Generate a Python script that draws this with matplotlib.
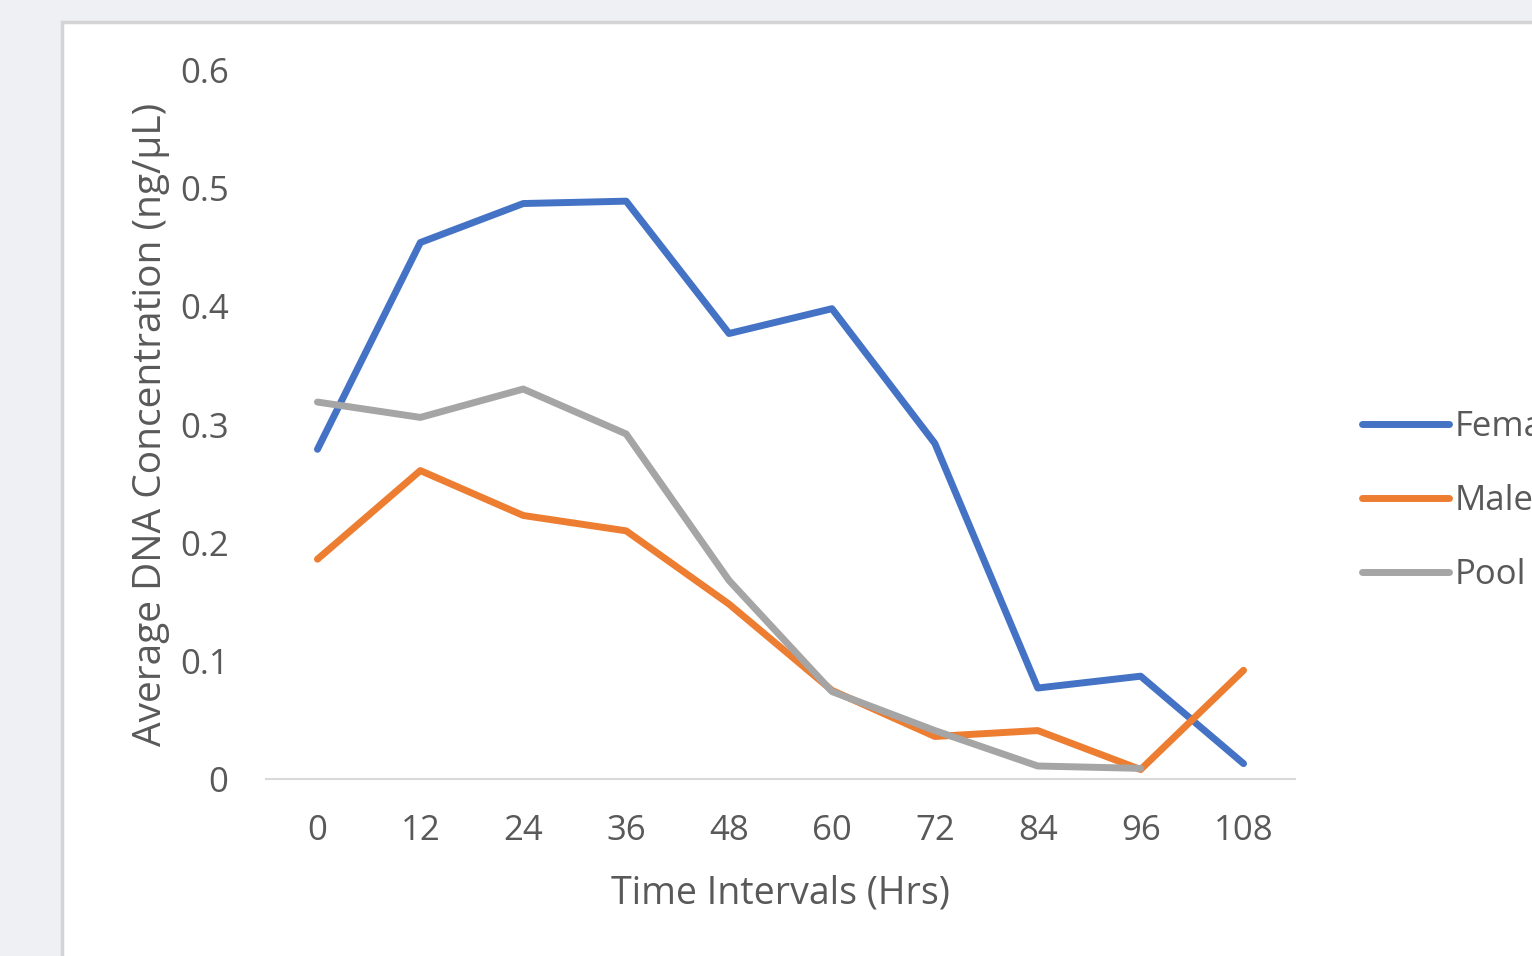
import matplotlib.pyplot as plt
from matplotlib.patches import Rectangle

# Data
hours = ['0', '12', '24', '36', '48', '60', '72', '84', '96', '108']
female = [0.279, 0.454, 0.487, 0.489, 0.377, 0.398, 0.284, 0.077, 0.087, 0.013]
male = [0.186, 0.261, 0.223, 0.210, 0.148, 0.075, 0.036, 0.041, 0.008, 0.092]
pool = [0.319, 0.306, 0.330, 0.292, 0.168, 0.074, 0.041, 0.011, 0.009]

text_color = '#595959'
plt.rcParams['font.family'] = ['Open Sans', 'DejaVu Sans']

fig = plt.figure(figsize=(15.32, 9.56), dpi=100, facecolor='#eef0f4')

# white chart area with a light border, as in the screenshot
fig.patches.append(Rectangle((62 / 1532, -0.05), 1.0, 1 - 22 / 956 + 0.05,
                             transform=fig.transFigure, facecolor='white',
                             edgecolor='#d4d4d4', linewidth=2.5, zorder=-5))

ax = fig.add_axes([266 / 1532, 177 / 956, 1029 / 1532, 709 / 956])
ax.set_facecolor('none')

x = list(range(len(hours)))
ax.plot(x, female, color='#4472C4', linewidth=5, solid_capstyle='round',
        solid_joinstyle='round', label='Female')
ax.plot(x, male, color='#ED7D31', linewidth=5, solid_capstyle='round',
        solid_joinstyle='round', label='Male')
ax.plot(x[:len(pool)], pool, color='#A5A5A5', linewidth=5, solid_capstyle='round',
        solid_joinstyle='round', label='Pool')

ax.set_xlim(-0.5, len(hours) - 0.5)
ax.set_ylim(0, 0.6)
ax.set_xticks(x)
ax.set_xticklabels(hours)
ax.set_yticks([0, 0.1, 0.2, 0.3, 0.4, 0.5, 0.6])
ax.set_yticklabels(['0', '0.1', '0.2', '0.3', '0.4', '0.5', '0.6'])
ax.tick_params(length=0, labelsize=25, labelcolor=text_color)
ax.tick_params(axis='x', pad=25)
ax.tick_params(axis='y', pad=27)

for side in ['top', 'right', 'left']:
    ax.spines[side].set_visible(False)
ax.spines['bottom'].set_color('#d9d9d9')
ax.spines['bottom'].set_linewidth(1.5)

ax.set_xlabel('Time Intervals (Hrs)', fontsize=27, color=text_color, labelpad=19)
ax.set_ylabel('Average DNA Concentration (ng/µL)', fontsize=28, color=text_color, labelpad=7)

leg = fig.legend(loc='center left', bbox_to_anchor=(1331 / 1532, 1 - 501 / 956),
                 frameon=False, fontsize=25, handlelength=2.5, handletextpad=0.15,
                 labelspacing=1.15)
for t in leg.get_texts():
    t.set_color(text_color)

fig.savefig('out.png', dpi=100, facecolor=fig.get_facecolor())
